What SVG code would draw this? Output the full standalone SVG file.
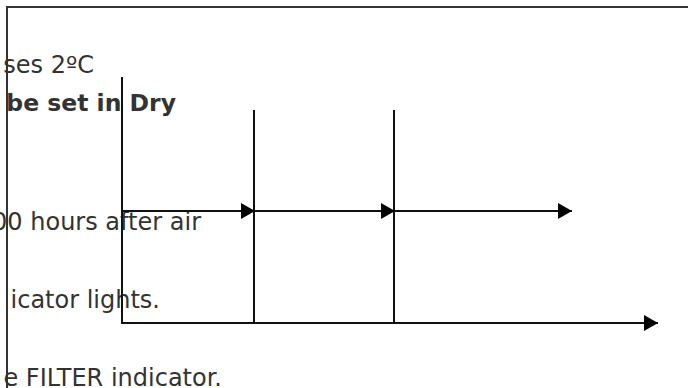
<svg xmlns="http://www.w3.org/2000/svg" width="688" height="388" viewBox="0 0 688 388">
<style>
.t{font-family:"DejaVu Sans",sans-serif;font-size:24px;fill:#333;text-anchor:end}
.b{font-weight:bold;font-size:23.5px}
.frame{fill:none;stroke:#333;stroke-width:2}
.ln{stroke:#111;stroke-width:2;fill:none}
</style>
<defs>
<marker id="ah" markerWidth="14" markerHeight="16" refX="14" refY="8" orient="auto" markerUnits="userSpaceOnUse">
<path d="M0,0 L14,8 L0,16 Z" fill="#000"/>
</marker>
</defs>
<rect id="bg" x="0" y="0" width="688" height="388" fill="#fff"/>
<g id="text">
<text class="t" x="94" y="73">ses 2ºC</text>
<text class="t b" x="176" y="111">be set in Dry</text>
<text class="t" x="201" y="230">00 hours after air</text>
<text class="t" x="160" y="308">icator lights.</text>
<text class="t" x="222" y="386">e FILTER indicator.</text>
</g>
<g id="frame">
<path class="frame" d="M7,400 V7 H700"/>
</g>
<g id="axes">
<line class="ln" x1="122" y1="77" x2="122" y2="324"/>
<line class="ln" x1="254" y1="110" x2="254" y2="324"/>
<line class="ln" x1="394" y1="110" x2="394" y2="324"/>
</g>
<g id="connectors">
<line class="ln" x1="122" y1="211" x2="255" y2="211" marker-end="url(#ah)"/>
<line class="ln" x1="254" y1="211" x2="395" y2="211" marker-end="url(#ah)"/>
<line class="ln" x1="394" y1="211" x2="572" y2="211" marker-end="url(#ah)"/>
<line class="ln" x1="122" y1="323" x2="658" y2="323" marker-end="url(#ah)"/>
</g>
</svg>
